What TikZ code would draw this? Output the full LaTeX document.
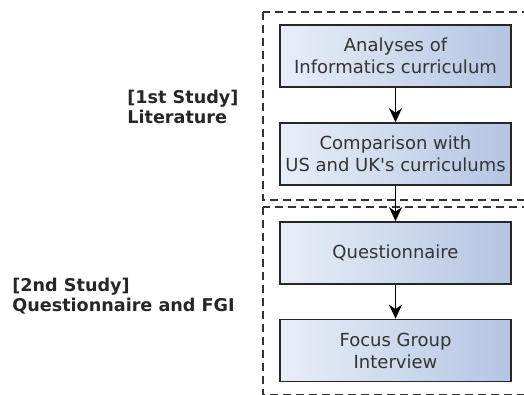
\documentclass[tikz,border=0pt]{standalone}
\usepackage{fontspec}
\setmainfont{DejaVu Sans}[Ligatures=TeXOff]
\usepackage{tikz}
\usetikzlibrary{arrows.meta}

\definecolor{boxleft}{HTML}{E8EEF8}
\definecolor{boxright}{HTML}{B4C5E2}

\tikzset{
    stagebox/.style={draw=black!85, line width=0.85pt, left color=boxleft, right color=boxright,
        minimum width=115.5pt, minimum height=31pt, align=center, inner sep=0pt,
        font=\fontsize{9}{11}\selectfont, text=black!80},
    studybox/.style={draw=black!80, dashed, line width=0.65pt, dash pattern=on 4pt off 2.5pt},
    studylabel/.style={align=left, inner sep=0pt, font=\bfseries\fontsize{8.8}{9.8}\selectfont, text=black!85}
}

\begin{document}
\begin{tikzpicture}[x=0.5pt, y=-0.5pt, >={Stealth[length=7pt,width=6.5pt]}]
        \useasboundingbox (0,0) rectangle (524,395);
        \clip (0,0) rectangle (524,395);
        % Khung nghiên cứu
        \draw[studybox] (263,12) rectangle (540,200);
        \draw[studybox] (263,207) rectangle (540,395);
        % Nghiên cứu 1
        \node[stagebox] (analyses) at (395.5,56) {Analyses of\\Informatics curriculum};
        \node[stagebox] (comparison) at (395.5,154) {Comparison with\\US and UK's curriculums};
        % Nghiên cứu 2
        \node[stagebox] (questionnaire) at (395.5,253) {Questionnaire};
        \node[stagebox] (fgi) at (395.5,350.5) {Focus Group\\Interview};
        % Mũi tên
        \draw[->, line width=0.95pt] (analyses) -- (comparison);
        \draw[->, line width=0.95pt] (comparison) -- (questionnaire);
        \draw[->, line width=0.95pt] (questionnaire) -- (fgi);
        % Nhãn
        \node[studylabel, anchor=west] (study1) at (127,107) {[1st Study]\\Literature};
        \node[studylabel, anchor=west] (study2) at (12,296) {[2nd Study]\\Questionnaire and FGI};
\end{tikzpicture}
\end{document}
